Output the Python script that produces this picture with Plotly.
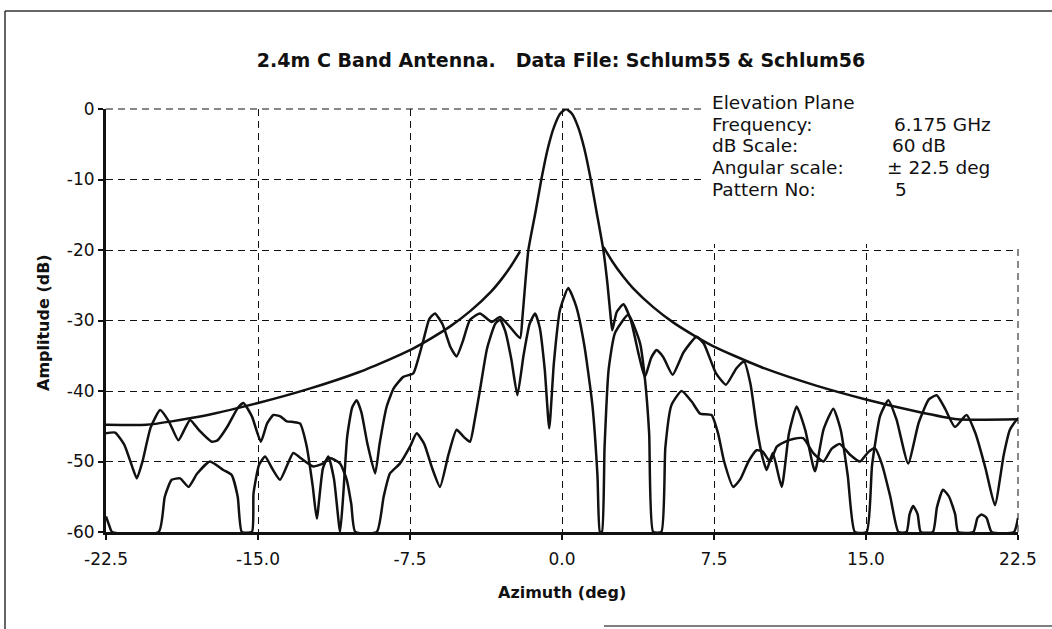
import plotly.graph_objects as go

# ---------------- data ----------------
# Co-polar pattern (Schlum55)
co_x = [-22.5, -22.05, -21.6, -21.2, -20.98, -20.7, -20.3, -19.83, -19.4, -18.93, -18.6, -18.35,
        -17.9, -17.28, -17.0, -16.5, -16.0, -15.72, -15.3, -14.86, -14.55, -14.24, -13.9, -13.58,
        -13.26, -12.93, -12.6, -12.3, -12.1, -11.8, -11.53, -11.25, -10.95, -10.8, -10.6, -10.35,
        -10.13, -9.9, -9.6, -9.22, -9.0, -8.65, -8.3, -7.83, -7.34, -7.1, -6.84, -6.55, -6.27,
        -5.9, -5.5, -5.2, -4.9, -4.54, -4.05, -3.47, -3.06, -2.57, -2.07, -1.95, -1.82, -1.66,
        -1.3, -1.02, -0.7, -0.4, -0.1, 0.2, 0.5, 0.8, 1.1, 1.42, 1.7, 2.04, 2.25, 2.4, 2.48,
        2.7, 3.03, 3.4, 3.8, 4.09, 4.4, 4.67, 5.0, 5.46, 6.0, 6.64, 7.0, 7.6, 8.09, 8.6, 8.98,
        9.3, 9.6, 9.9, 10.1, 10.4, 10.84, 11.2, 11.58, 12.0, 12.48, 12.9, 13.39, 13.75, 14.1,
        14.45, 15.03, 15.3, 15.7, 16.1, 16.5, 17.08, 17.6, 18.1, 18.49, 18.9, 19.39, 19.96,
        20.4, 20.9, 21.36, 21.8, 22.1, 22.43, 22.5]
co_db = [-46.0, -45.9, -47.6, -50.8, -52.4, -50.0, -45.2, -42.7, -44.3, -47.0, -45.3, -44.1,
         -45.6, -47.2, -47.0, -45.0, -42.4, -41.7, -43.6, -47.2, -44.6, -43.4, -43.6, -44.3,
         -44.4, -44.6, -47.8, -53.5, -58.1, -51.0, -49.3, -52.5, -60.0, -55.0, -46.5, -42.3,
         -41.3, -43.0, -47.5, -51.7, -47.5, -42.2, -39.6, -38.0, -37.5, -35.5, -32.8, -29.8, -29.0,
         -30.5, -33.8, -35.1, -33.0, -29.9, -29.0, -30.2, -29.5, -30.9, -32.5, -29.5, -25.0, -20.0,
         -14.5, -10.0, -5.6, -2.6, -0.7, 0.0, -0.7, -2.6, -5.6, -10.0, -14.5, -20.0, -25.0, -29.5, -31.4,
         -28.8, -27.7, -30.0, -35.0, -38.0, -35.3, -34.2, -35.2, -37.7, -34.5, -32.3, -33.3, -37.5, -39.1, -36.8, -35.8,
         -39.0, -45.0, -49.5, -51.2, -48.8, -53.6, -46.0, -42.2, -45.5, -51.4, -45.5, -42.5, -45.5, -52.0,
         -60.0, -60.0, -50.5, -43.5, -41.3, -44.0, -50.3, -44.5, -41.2, -40.6, -42.5, -45.1, -43.4,
         -46.0, -51.0, -56.2, -49.0, -45.5, -44.1, -44.0]

# Cross-polar pattern (Schlum56)
xp_x = [-22.5, -22.35, -22.2, -19.9, -19.6, -19.26, -18.84, -18.43, -18.0, -17.37, -16.71, -16.3,
        -16.0, -15.8, -15.3, -15.22, -14.95, -14.65, -14.3, -13.91, -13.26, -12.9, -12.27, -11.8,
        -11.45, -10.95, -10.62, -10.4, -10.2, -9.14, -8.8, -8.49, -8.0, -7.5, -7.17, -6.8, -6.4,
        -6.02, -5.6, -5.2, -4.85, -4.54, -4.3, -4.05, -3.7, -3.3, -3.06, -2.8, -2.5, -2.2, -1.9,
        -1.6, -1.33, -1.1, -0.85, -0.63, -0.4, -0.1, 0.31, 0.7, 1.1, 1.5, 1.75, 1.87, 1.97, 2.1,
        2.3, 2.61, 3.27, 3.85, 4.1, 4.3, 4.5, 4.9, 5.1, 5.4, 5.9, 6.4, 6.81, 7.38, 7.7, 8.0, 8.45,
        8.8, 9.2, 9.6, 9.9, 10.26, 10.6, 11.0, 11.4, 11.9, 12.4, 12.9, 13.3, 13.7, 14.2, 14.7,
        15.1, 15.44, 15.8, 16.2, 16.6, 17.0, 17.15, 17.33, 17.55, 17.7, 18.3, 18.5, 18.8, 19.1,
        19.4, 19.55, 20.3, 20.5, 20.7, 20.95, 21.2, 22.3, 22.5]
xp_db = [-57.8, -59.0, -60.0, -60.0, -55.0, -52.6, -52.4, -53.6, -51.7, -50.0, -51.2, -51.9,
         -55.0, -60.0, -60.0, -54.5, -50.5, -49.3, -51.0, -52.6, -48.8, -49.5, -50.7, -50.3,
         -49.5, -50.3, -52.6, -56.0, -60.0, -60.0, -55.0, -51.7, -50.3, -47.9, -46.0, -47.5, -51.0,
         -53.6, -49.0, -45.5, -46.5, -47.2, -44.0, -39.9, -34.0, -30.5, -29.9, -31.5, -35.5, -40.6, -35.0,
         -30.5, -29.0, -31.0, -37.0, -45.3, -36.0, -28.5, -25.4, -28.0, -33.5, -42.0, -52.0, -60.0, -60.0, -48.0,
         -37.0, -31.8, -29.2, -33.2, -38.5, -46.0, -60.0, -60.0, -48.0, -42.0, -40.0, -41.5, -43.2, -43.4, -46.0, -50.0, -53.6,
         -52.5, -50.0, -48.4, -48.6, -50.0, -47.9, -47.2, -46.8, -46.7, -48.8, -50.0, -48.2, -47.5, -49.0, -50.0,
         -48.7, -48.1, -50.5, -55.0, -60.0, -60.0, -57.5, -56.3, -57.5, -60.0, -60.0, -56.5, -54.0, -55.0,
         -57.5, -60.0, -60.0, -58.0, -57.5, -58.0, -60.0, -60.0, -58.0]

# Envelope (reference mask), left and right branches
env_left_x = [-22.5, -20.5, -18.0, -15.0, -12.5, -10.0, -8.5, -7.5, -6.5, -5.5, -4.5, -3.5, -3.0, -2.5, -2.07]
env_left_db = [-44.8, -44.8, -43.7, -41.7, -39.7, -37.3, -35.5, -34.2, -32.6, -30.8, -28.6, -25.9, -24.2, -22.2, -20.2]
env_right_x = [2.05, 2.5, 3.0, 3.5, 4.5, 5.5, 6.5, 7.5, 8.5, 10.0, 12.5, 15.0, 17.5, 19.5, 22.5]
env_right_db = [-19.6, -21.7, -23.7, -25.4, -28.1, -30.3, -32.1, -33.7, -35.0, -36.8, -39.2, -41.2, -42.9, -44.0, -44.0]

x_ticks = [-22.5, -15.0, -7.5, 0.0, 7.5, 15.0, 22.5]
x_tick_labels = ["-22.5", "-15.0", "-7.5", "0.0", "7.5", "15.0", "22.5"]
y_ticks = [0, -10, -20, -30, -40, -50, -60]
y_tick_labels = ["0", "-10", "-20", "-30", "-40", "-50", "-60"]

title_text = "2.4m C Band Antenna.   Data File: Schlum55 &amp; Schlum56"
x_title = "Azimuth (deg)"
y_title = "Amplitude (dB)"
info_labels = ["Elevation Plane", "Frequency:", "dB Scale:", "Angular scale:", "Pattern No:"]
info_values = ["", "6.175 GHz", "60 dB", "± 22.5 deg", "5"]

# ---------------- figure ----------------
FONT = "DejaVu Sans, Liberation Sans, Arial, sans-serif"
INK = "#111111"

fig = go.Figure()
line_style = dict(color=INK, width=2.5, shape="spline", smoothing=0.5)
for xs, ys in [(co_x, co_db), (xp_x, xp_db), (env_left_x, env_left_db), (env_right_x, env_right_db)]:
    fig.add_trace(go.Scatter(x=xs, y=ys, mode="lines", line=line_style,
                             showlegend=False, hoverinfo="skip"))

L, R, T, B = 106, 34, 109, 97
W, H = 1052, 629
pw, ph = W - L - R, H - T - B


def px_x(px):
    return (px - L) / pw


def px_y(py):
    return (H - B - py) / ph


axis_common = dict(showgrid=True, gridcolor=INK, gridwidth=1, griddash="7px,5px",
                   showline=True, linecolor=INK, linewidth=3, zeroline=False,
                   ticks="outside", ticklen=5, tickwidth=1.5, tickcolor=INK,
                   tickfont=dict(family=FONT, size=17, color=INK))

fig.update_layout(
    width=W, height=H,
    margin=dict(l=L, r=R, t=T, b=B),
    paper_bgcolor="white", plot_bgcolor="white",
    showlegend=False,
    title=dict(text="<b>" + title_text + "</b>", x=px_x(561), xref="paper", xanchor="center",
               y=1 - 60 / H, yref="container", yanchor="middle",
               font=dict(family=FONT, size=19, color=INK)),
    xaxis=dict(range=[-22.5, 22.5], tickvals=x_ticks, ticktext=x_tick_labels,
               ticklabelstandoff=5, **axis_common),
    yaxis=dict(range=[-60, 0], tickvals=y_ticks, ticktext=y_tick_labels, **axis_common),
)

shapes = [
    # edge grid lines (top at 0 dB and right at 22.5 deg)
    dict(type="line", xref="paper", yref="paper", x0=0, x1=1, y0=1, y1=1,
         line=dict(color=INK, width=1, dash="7px,5px"), layer="above"),
    dict(type="line", xref="paper", yref="paper", x0=1, x1=1, y0=0, y1=1,
         line=dict(color=INK, width=1, dash="7px,5px"), layer="above"),
    # white box behind the info text (hides the grid there)
    dict(type="rect", xref="paper", yref="paper", x0=px_x(706), x1=px_x(1030),
         y0=px_y(244), y1=px_y(96), fillcolor="white", line=dict(width=0), layer="above"),
    # scanned page frame
    dict(type="line", xref="paper", yref="paper", x0=px_x(5), x1=px_x(5), y0=px_y(11), y1=px_y(629),
         line=dict(color="#333333", width=1.5)),
    dict(type="line", xref="paper", yref="paper", x0=px_x(5), x1=px_x(1052), y0=px_y(11), y1=px_y(11),
         line=dict(color="#333333", width=1.5)),
    dict(type="line", xref="paper", yref="paper", x0=px_x(604), x1=px_x(1052), y0=px_y(626), y1=px_y(626),
         line=dict(color="#555555", width=1.5)),
]
fig.update_layout(shapes=shapes)

annotations = [
    dict(text="<b>" + x_title + "</b>", xref="paper", yref="paper", x=px_x(562), y=px_y(592),
         showarrow=False, font=dict(family=FONT, size=16, color=INK), xanchor="center", yanchor="middle"),
    dict(text="<b>" + y_title + "</b>", xref="paper", yref="paper", x=px_x(43), y=px_y(322),
         showarrow=False, textangle=-90, font=dict(family=FONT, size=16, color=INK),
         xanchor="center", yanchor="middle"),
]
row_y = [102, 124, 145, 167, 189]
val_x = [892, 892, 890, 885, 893]
for lab, val, yy, vx in zip(info_labels, info_values, row_y, val_x):
    annotations.append(dict(text=lab, xref="paper", yref="paper", x=px_x(710), y=px_y(yy),
                            showarrow=False, xanchor="left", yanchor="middle",
                            font=dict(family=FONT, size=18.5, color=INK)))
    if val:
        annotations.append(dict(text=val, xref="paper", yref="paper", x=px_x(vx), y=px_y(yy),
                                showarrow=False, xanchor="left", yanchor="middle",
                                font=dict(family=FONT, size=18.5, color=INK)))
fig.update_layout(annotations=annotations)

fig.write_html("out.html")
